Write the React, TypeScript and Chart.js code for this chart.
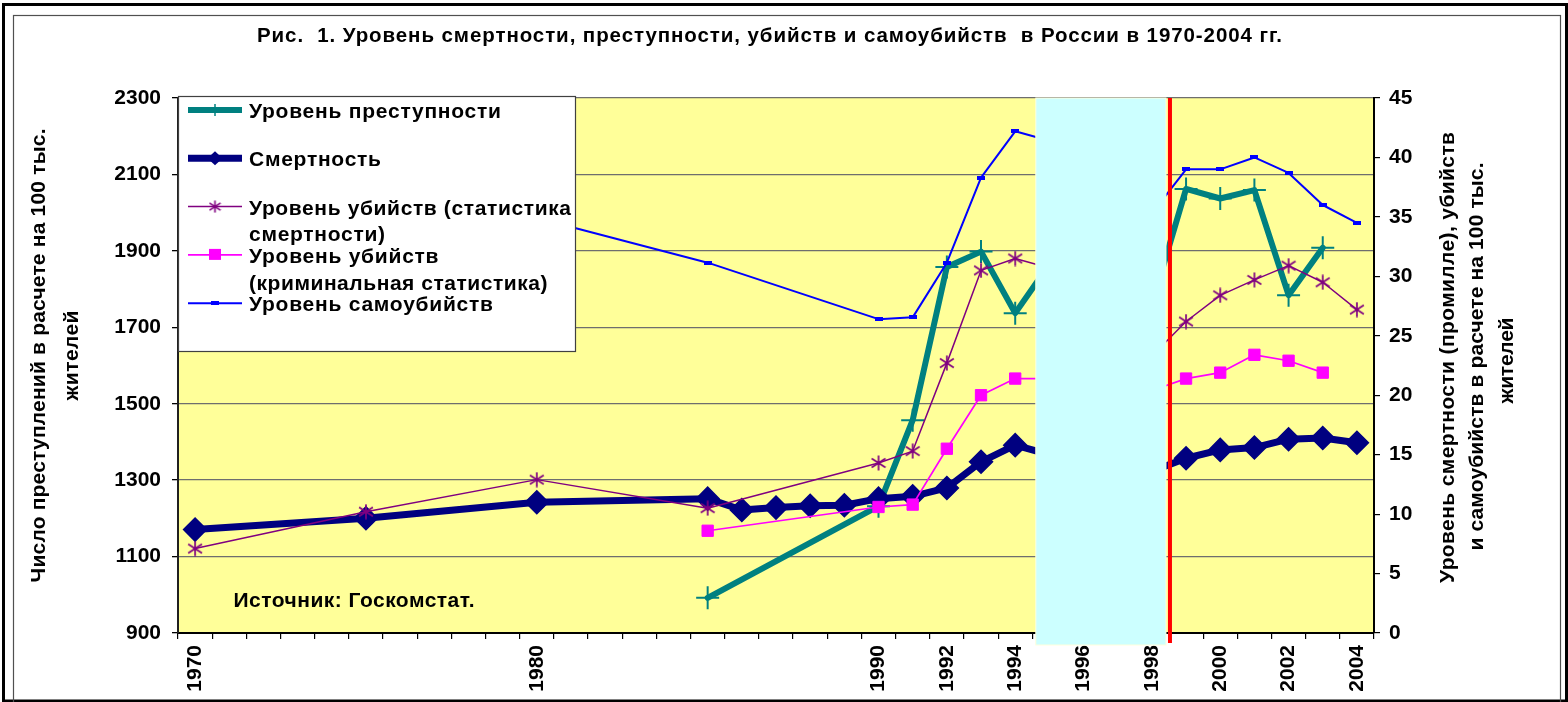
import React, { useEffect, useRef } from 'react';
import { Chart, registerables } from 'chart.js';

Chart.register(...registerables);

// ---------- DATA ----------
const YEARS = [
  '1970', '1971', '1972', '1973', '1974', '1975', '1976', '1977', '1978', '1979',
  '1980', '1981', '1982', '1983', '1984', '1985', '1986', '1987', '1988', '1989',
  '1990', '1991', '1992', '1993', '1994', '1995', '1996', '1997', '1998', '1999',
  '2000', '2001', '2002', '2003', '2004',
];
const SHOWN_YEARS = ['1970', '1980', '1990', '1992', '1994', '1996', '1998', '2000', '2002', '2004'];

// Уровень преступности (left axis, per 100 000)
const CRIME_RATE = [
  null, null, null, null, null, null, null, null, null, null,
  null, null, null, null, null, 992, null, null, null, null,
  1232, 1457, 1858, 1898, 1737, 1865, 1778, 1629, 1760, 2062,
  2037, 2059, 1784, 1908, null,
];
// Смертность (right axis, ‰)
const MORTALITY = [
  8.7, null, null, null, null, 9.65, null, null, null, null,
  11.0, null, null, null, null, 11.3, 10.35, 10.55, 10.7, 10.75,
  11.3, 11.5, 12.2, 14.4, 15.8, 15.0, 14.2, 13.8, 13.6, 14.7,
  15.4, 15.6, 16.3, 16.4, 16.0,
];
// Уровень убийств (статистика смертности)
const HOMICIDE_MORTALITY_STATS = [
  7.1, null, null, null, null, 10.2, null, null, null, null,
  12.9, null, null, null, null, 10.5, null, null, null, null,
  14.3, 15.3, 22.7, 30.5, 31.5, 30.7, 26.1, 23.9, 23.3, 26.2,
  28.4, 29.7, 30.9, 29.5, 27.2,
];
// Уровень убийств (криминальная статистика)
const HOMICIDE_CRIMINAL_STATS = [
  null, null, null, null, null, null, null, null, null, null,
  null, null, null, null, null, 8.6, null, null, null, null,
  10.6, 10.8, 15.5, 20.0, 21.4, 21.4, 19.9, 19.9, 20.4, 21.4,
  21.9, 23.4, 22.9, 21.9, null,
];
// Уровень самоубийств
const SUICIDE_RATE = [
  null, null, null, null, null, null, null, null, null, null,
  34.9, null, null, null, null, 31.15, null, null, null, null,
  26.4, 26.55, 31.15, 38.3, 42.2, 41.4, 39.3, 37.6, 35.3, 39.0,
  39.0, 40.0, 38.7, 36.0, 34.5,
];

const LEFT_MIN = 900;
const LEFT_MAX = 2300;
const LEFT_STEP = 200;
const RIGHT_MIN = 0;
const RIGHT_MAX = 45;
const RIGHT_STEP = 5;

const HIDDEN_FROM = '1995';
const HIDDEN_TO = '1998';

const TITLE = 'Рис.  1. Уровень смертности, преступности, убийств и самоубийств  в России в 1970-2004 гг.';
const LEFT_AXIS_TITLE = ['Число преступлений в расчете на 100 тыс.', 'жителей'];
const RIGHT_AXIS_TITLE = ['Уровень смертности (промилле), убийств', 'и самоубийств в расчете на 100 тыс.', 'жителей'];
const SOURCE = 'Источник: Госкомстат.';

const LEGEND_LINES = [
  ['Уровень преступности'],
  ['Смертность'],
  ['Уровень убийств (статистика', 'смертности)'],
  ['Уровень убийств', '(криминальная статистика)'],
  ['Уровень самоубийств'],
];

// ---------- STYLE ----------
const W = 1568;
const H = 702;
const AREA = { left: 178, right: 1374, top: 98, bottom: 633 };
const FONT = '"Liberation Sans", Arial, Helvetica, sans-serif';
const TEAL = '#008080';
const NAVY = '#000080';
const PURPLE = '#800080';
const MAGENTA = '#FF00FF';
const BLUE = '#0000FF';
const PLOT_BG = '#FFFF99';
const CYAN = '#CCFFFF';
const RED = '#FF0000';

const LEGEND_TEXT_WIDTHS = [[252], [132], [322, 136], [189.5, 298.5], [244]];

function makeAsterisk(color: string, size: number, lw: number) {
  const c = document.createElement('canvas');
  c.width = size;
  c.height = size;
  const g = c.getContext('2d')!;
  g.strokeStyle = color;
  g.lineWidth = lw;
  const m = size / 2;
  const r = size / 2 - 0.5;
  g.beginPath();
  g.moveTo(m, m - r);
  g.lineTo(m, m + r);
  const dx = r * 0.92;
  const dy = r * 0.6;
  g.moveTo(m - dx, m - dy);
  g.lineTo(m + dx, m + dy);
  g.moveTo(m + dx, m - dy);
  g.lineTo(m - dx, m + dy);
  g.stroke();
  return c;
}

function makeDash(color: string, w: number, h: number) {
  const c = document.createElement('canvas');
  c.width = w;
  c.height = h;
  const g = c.getContext('2d')!;
  g.fillStyle = color;
  g.fillRect(0, 0, w, h);
  return c;
}

function fitText(ctx: any, text: string, x: number, y: number, width: number) {
  ctx.letterSpacing = '0px';
  const natural = ctx.measureText(text).width;
  const n = Array.from(text).length;
  const ls = n > 1 ? (width - natural) / (n - 1) : 0;
  ctx.letterSpacing = ls + 'px';
  ctx.textAlign = 'left';
  ctx.fillText(text, x, y);
  ctx.letterSpacing = '0px';
}

function rotatedText(ctx: any, text: string, baselineX: number, cy: number, width: number) {
  ctx.save();
  ctx.translate(baselineX, cy);
  ctx.rotate(-Math.PI / 2);
  ctx.textBaseline = 'alphabetic';
  fitText(ctx, text, -width / 2, 0, width);
  ctx.restore();
}

export default function App() {
  const ref = useRef<HTMLCanvasElement | null>(null);

  useEffect(() => {
    const canvas = ref.current;
    if (!canvas) return;
    const asterisk = makeAsterisk(PURPLE, 16, 1.7);
    const asteriskSmall = makeAsterisk(PURPLE, 13, 1.6);
    const dash = makeDash(BLUE, 8, 4);

    const backgroundPlugin = {
      id: 'bg',
      beforeDraw(chart: any) {
        const ctx = chart.ctx;
        const a = chart.chartArea;
        ctx.save();
        ctx.fillStyle = '#FFFFFF';
        ctx.fillRect(0, 0, W, H);
        ctx.fillStyle = PLOT_BG;
        ctx.fillRect(a.left, a.top, a.right - a.left, a.bottom - a.top);
        // outer frame
        ctx.strokeStyle = '#000';
        ctx.lineWidth = 3;
        ctx.strokeRect(3.5, 4.5, W - 5, H - 5.5);
        // inner frame
        ctx.strokeStyle = '#505050';
        ctx.lineWidth = 1.2;
        ctx.strokeRect(13.5, 15.5, 1547, 690);
        ctx.restore();
      },
    };

    const overlayPlugin = {
      id: 'overlay',
      afterDraw(chart: any) {
        const ctx = chart.ctx;
        const a = chart.chartArea;
        const xs = chart.scales.x;
        const i0 = YEARS.indexOf(HIDDEN_FROM);
        const i1 = YEARS.indexOf(HIDDEN_TO);
        const bLeft = xs.getPixelForValue(i0 - 0.5);
        const bRight = xs.getPixelForValue(i1 + 0.5);
        ctx.save();
        // hidden-years block
        ctx.fillStyle = CYAN;
        ctx.fillRect(bLeft + 3.5, a.top, bRight - bLeft - 6.5, a.bottom - a.top + 12);
        ctx.strokeStyle = '#FFFFDD';
        ctx.lineWidth = 1;
        ctx.strokeRect(bLeft + 3.5, a.top, bRight - bLeft - 6.5, a.bottom - a.top + 12);
        // red marker line
        ctx.strokeStyle = RED;
        ctx.lineWidth = 4;
        ctx.beginPath();
        ctx.moveTo(bRight + 1, a.top);
        ctx.lineTo(bRight + 1, a.bottom + 10);
        ctx.stroke();

        // legend
        const lx = a.left;
        const ly = a.top - 2;
        const lw = 397;
        const lh = 255;
        ctx.fillStyle = '#FFFFFF';
        ctx.fillRect(lx, ly, lw, lh);
        ctx.strokeStyle = '#404040';
        ctx.lineWidth = 1.2;
        ctx.strokeRect(lx + 0.5, ly + 0.5, lw, lh);
        const ds = chart.data.datasets;
        ctx.font = 'bold 21px ' + FONT;
        ctx.textBaseline = 'alphabetic';
        for (let i = 0; i < LEGEND_LINES.length; i++) {
          const sy = ly + 14 + i * 48.3;
          const d = ds[i];
          const x0 = lx + 10;
          const x1 = lx + 64;
          const mx = (x0 + x1) / 2;
          ctx.strokeStyle = d.borderColor;
          ctx.lineWidth = d.borderWidth;
          ctx.beginPath();
          ctx.moveTo(x0, sy);
          ctx.lineTo(x1, sy);
          ctx.stroke();
          ctx.fillStyle = d.borderColor;
          if (i === 0) {
            ctx.lineWidth = 1.5;
            ctx.beginPath();
            ctx.moveTo(mx, sy - 6);
            ctx.lineTo(mx, sy + 6);
            ctx.stroke();
          } else if (i === 1) {
            ctx.beginPath();
            ctx.moveTo(mx, sy - 7);
            ctx.lineTo(mx + 7.5, sy);
            ctx.lineTo(mx, sy + 7);
            ctx.lineTo(mx - 7.5, sy);
            ctx.closePath();
            ctx.fill();
          } else if (i === 2) {
            ctx.drawImage(asteriskSmall, mx - 6.5, sy - 6.5);
          } else if (i === 3) {
            ctx.fillRect(mx - 6, sy - 6, 12, 11);
          } else {
            ctx.drawImage(dash, mx - 4, sy - 2.5);
          }
          ctx.fillStyle = '#000';
          const lines = LEGEND_LINES[i];
          for (let k = 0; k < lines.length; k++) {
            fitText(ctx, lines[k], lx + 71, sy + 8 + k * 26.7, LEGEND_TEXT_WIDTHS[i][k]);
          }
        }

        // source note
        ctx.fillStyle = '#000';
        ctx.font = 'bold 21px ' + FONT;
        fitText(ctx, SOURCE, 233.5, 607, 241);

        // title
        ctx.font = 'bold 20.5px ' + FONT;
        fitText(ctx, TITLE, 257, 42, 1025);

        // axis titles
        ctx.font = 'bold 21px ' + FONT;
        const cyL = (a.top + a.bottom) / 2 - 10;
        rotatedText(ctx, LEFT_AXIS_TITLE[0], 44.5, cyL, 454);
        rotatedText(ctx, LEFT_AXIS_TITLE[1], 78, cyL, 90);
        const cyR = (a.top + a.bottom) / 2 - 8;
        rotatedText(ctx, RIGHT_AXIS_TITLE[0], 1454, cyR, 451);
        rotatedText(ctx, RIGHT_AXIS_TITLE[1], 1483, cyR - 1, 388);
        rotatedText(ctx, RIGHT_AXIS_TITLE[2], 1513, cyR + 3, 86);
        ctx.restore();
      },
    };

    const tickFont = { family: FONT, size: 21, weight: 'bold' as const };

    const chart = new Chart(canvas, {
      type: 'line',
      data: {
        labels: YEARS,
        datasets: [
          {
            label: 'Уровень преступности',
            data: CRIME_RATE,
            yAxisID: 'y',
            borderColor: TEAL,
            backgroundColor: TEAL,
            borderWidth: 6,
            pointStyle: 'cross',
            pointRadius: 11.5,
            pointBorderWidth: 2,
            pointBorderColor: TEAL,
            spanGaps: true,
            order: 5,
          },
          {
            label: 'Смертность',
            data: MORTALITY,
            yAxisID: 'y1',
            borderColor: NAVY,
            backgroundColor: NAVY,
            borderWidth: 7,
            pointStyle: 'rectRot',
            pointRadius: 11.5,
            pointBorderWidth: 1.5,
            pointBorderColor: NAVY,
            pointBackgroundColor: NAVY,
            spanGaps: true,
            order: 4,
          },
          {
            label: 'Уровень убийств (статистика смертности)',
            data: HOMICIDE_MORTALITY_STATS,
            yAxisID: 'y1',
            borderColor: PURPLE,
            backgroundColor: PURPLE,
            borderWidth: 1.5,
            pointStyle: asterisk,
            pointRadius: 8,
            spanGaps: true,
            order: 3,
          },
          {
            label: 'Уровень убийств (криминальная статистика)',
            data: HOMICIDE_CRIMINAL_STATS,
            yAxisID: 'y1',
            borderColor: MAGENTA,
            backgroundColor: MAGENTA,
            borderWidth: 1.7,
            pointStyle: 'rect',
            pointRadius: 8,
            pointBorderWidth: 1,
            pointBorderColor: MAGENTA,
            pointBackgroundColor: MAGENTA,
            spanGaps: true,
            order: 2,
          },
          {
            label: 'Уровень самоубийств',
            data: SUICIDE_RATE,
            yAxisID: 'y1',
            borderColor: BLUE,
            backgroundColor: BLUE,
            borderWidth: 2,
            pointStyle: dash,
            pointRadius: 4,
            spanGaps: true,
            order: 1,
          },
        ] as any,
      },
      options: {
        animation: false,
        responsive: false,
        devicePixelRatio: 1,
        events: [],
        layout: { padding: { top: AREA.top, left: 0, right: 0, bottom: 0 } },
        elements: { line: { borderJoinStyle: 'round', borderCapStyle: 'round', tension: 0 } },
        plugins: {
          legend: { display: false },
          title: { display: false },
          tooltip: { enabled: false },
        },
        scales: {
          x: {
            type: 'category',
            offset: true,
            grid: { offset: true, drawOnChartArea: false, tickLength: 6, tickColor: '#000', lineWidth: 1.2 },
            border: { color: '#000', width: 2 },
            ticks: {
              autoSkip: false,
              minRotation: 90,
              maxRotation: 90,
              padding: 6,
              color: '#000',
              font: tickFont,
              callback: (_v: any, i: number) => (SHOWN_YEARS.includes(YEARS[i]) ? YEARS[i] : ''),
            },
            afterFit: (s: any) => {
              s.height = H - AREA.bottom;
            },
          },
          y: {
            position: 'left',
            min: LEFT_MIN,
            max: LEFT_MAX,
            ticks: {
              stepSize: LEFT_STEP,
              padding: 11,
              color: '#000',
              font: tickFont,
              callback: (v: any) => String(v),
            },
            grid: { color: '#6E6E6E', lineWidth: 1.3, tickLength: 6, tickColor: '#000' },
            border: { color: '#202020', width: 2 },
            afterFit: (s: any) => {
              s.width = AREA.left;
            },
          },
          y1: {
            position: 'right',
            min: RIGHT_MIN,
            max: RIGHT_MAX,
            ticks: {
              stepSize: RIGHT_STEP,
              padding: 9,
              color: '#000',
              font: tickFont,
              callback: (v: any) => String(v),
            },
            grid: { drawOnChartArea: false, tickLength: 6, tickColor: '#000', lineWidth: 1.2 },
            border: { color: '#000', width: 2 },
            afterFit: (s: any) => {
              s.width = W - AREA.right;
            },
          },
        },
      } as any,
      plugins: [backgroundPlugin, overlayPlugin],
    });

    return () => {
      chart.destroy();
    };
  }, []);

  return (
    <div style={{ position: 'absolute', left: 0, top: 0, width: W, height: H, background: '#fff' }}>
      <canvas ref={ref} width={W} height={H} style={{ display: 'block' }} />
    </div>
  );
}
